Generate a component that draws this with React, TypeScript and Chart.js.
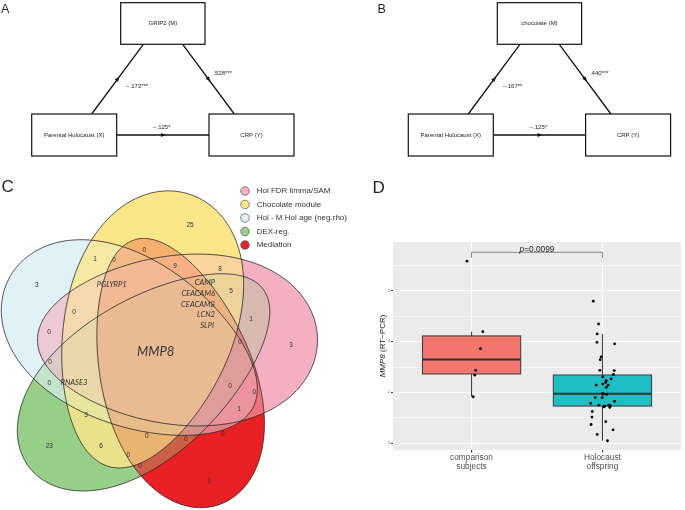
import React, { useEffect, useRef } from "react";
import { Chart, registerables } from "chart.js";

Chart.register(...registerables);
const SANS = "'Liberation Sans', Arial, Helvetica, sans-serif";
const GENE_FONT = "Lato, 'Liberation Sans', sans-serif";
Chart.defaults.font.family = SANS;

/* ---------------- DATA: panels A & B (mediation models) ---------------- */
const PANEL_LETTERS_AB = ["A", "B"];
const MEDIATORS = ["GRIP2 (M)", "chocolate (M)"];
const PREDICTOR = "Parental Holocaust (X)";
const OUTCOME = "CRP (Y)";
const COEF_X_TO_M = ["\u2212.173***", "\u2212.167**"];
const COEF_M_TO_Y = [".528***", ".440***"];
const COEF_X_TO_Y = ["\u2212.125*", "\u2212.125*"];

/* ---------------- DATA: panel C (Venn diagram) ---------------- */
const VENN_SETS = ["Hol FDR limma/SAM", "Chocolate module", "Hol - M Hol age (neg.rho)", "DEX-reg.", "Mediation"];
const VENN_COUNTS = [25, 3, 3, 23, 0, 0, 1, 0, 9, 8, 5, 1, 0, 0, 0, 0, 0, 0, 0, 1, 3, 0, 0, 0, 6, 0, 0];
const VENN_GENES = ["MMP8", "PGLYRP1", "CAMP", "CEACAM6", "CEACAM8", "LCN2", "SLPI", "RNASE3"];

/* ---------------- DATA: panel D (box plot) ---------------- */
const GROUP_LABELS = [["comparison", "subjects"], ["Holocaust", "offspring"]];
const COMPARISON_MMP8 = [7.16, 4.39, 3.72, 2.87, 2.68, 1.83];
const COMPARISON_JITTER = [-0.035, 0.086, 0.068, 0.031, 0.025, 0.013];
const OFFSPRING_MMP8 = [5.59, 4.69, 4.3, 3.97, 3.91, 3.4, 3.29, 2.87, 2.86, 2.71, 2.61, 2.53, 2.46, 2.39, 2.29, 2.29, 2.33, 2.2, 1.96, 1.92, 1.93, 1.8, 1.8, 1.57, 1.5, 1.65, 1.5, 1.48, 1.46, 1.41, 1.43, 1.25, 1.03, 0.74, 0.85, 0.53, 0.35, 0.1];
const OFFSPRING_JITTER = [-0.07, -0.03, -0.04, -0.042, 0.093, -0.01, -0.017, -0.02, 0.09, 0.083, 0.003, 0.066, 0.028, 0.025, 0.043, -0.047, 0.003, 0.03, 0.003, 0.033, 0.005, -0.055, -0.002, -0.09, -0.027, 0.093, 0.048, 0.06, 0.018, 0.056, 0.01, -0.078, -0.08, -0.087, 0.025, 0.081, -0.04, 0.038];
const Y_MAJOR_TICKS = [0, 2, 4, 6];
const Y_MINOR_TICKS = [1, 3, 5, 7];
const Y_LIMITS = [-0.263, 7.915];
const P_VALUE_LABEL = "0.0099";
const BRACKET_LEVELS = [7.51, 7.29];

/* ---------------- LAYOUT / STYLE (not data) ---------------- */
const AB_OFFSETS = [0, 36.6];
const AB_NODES = {
  M: [120.7, 2.7, 205, 44.3],
  X: [31.7, 114, 116.7, 156],
  Y: [209, 114, 294, 156],
};
const AB_EDGES = [
  [91.7, 114, 143.3, 44.3],
  [182.7, 44.3, 234.3, 114],
  [116.7, 135, 209, 135],
];
const AB_EDGE_LABEL_POS = [[126, 86], [213.3, 73.3], [153, 127.5]];

// egg-shaped set outlines: centre, half-length a, half-width b, lobe direction (deg), egg factor k
const VENN_SHAPES = [
  { cx: 177.5, cy: 170, a: 140, b: 85, rot: 0, k: 0.15 },
  { cx: 148, cy: 160, a: 142, b: 85, rot: -74, k: 0.15 },
  { cx: 131, cy: 173, a: 138, b: 83, rot: 208, k: 0.15 },
  { cx: 146, cy: 208, a: 147, b: 78, rot: 142.7, k: 0.15 },
  { cx: 176, cy: 202.5, a: 139, b: 76, rot: 72.6, k: 0.15 },
];
const VENN_FILLS = ["#F4B0C0", "#FBE68A", "#E1F1F8", "#98CF88", "#E92024"];
const VENN_BLEND = [0.8, 1.6, 0.5, 0.35, 0.6];
const VENN_COUNT_POS = [[190, 55], [36.7, 115], [291, 175], [49.3, 276.7], [209.3, 311], [144.3, 80], [95, 89.3], [114, 90], [175, 96.7], [220, 99.3], [231, 121.7], [251, 149], [240, 172.7], [74, 142.3], [49, 162.7], [50, 192.7], [49.3, 213.3], [230, 216], [254.3, 222.7], [239, 239], [86, 245], [146.7, 266.7], [185.7, 269.3], [222.7, 264.3], [101, 276.7], [128.3, 285.7], [140, 296]];
const VENN_GENE_POS = [[155.7, 181.7, "center", 13], [111.7, 115, "center", 7.6], [215, 112.7, "right", 7.6], [215, 123.5, "right", 7.6], [215, 134.3, "right", 7.6], [215, 145, "right", 7.6], [214, 155.7, "right", 7.6], [74, 212.7, "center", 7.6]];
const VENN_LEGEND_POS = { x: 245, y0: 21, dy: 13.5, r: 4.3, tx: 256.7 };
const BOX_FILLS = ["#F2766E", "#1FBEC4"];

function hexToRgb(h: string) {
  const n = parseInt(h.slice(1), 16);
  return [(n >> 16) & 255, (n >> 8) & 255, n & 255];
}

function quantile(s: number[], p: number) {
  const h = (s.length - 1) * p;
  const lo = Math.floor(h);
  const hi = Math.min(lo + 1, s.length - 1);
  return s[lo] + (h - lo) * (s[hi] - s[lo]);
}

function boxStats(vals: number[]) {
  const s = [...vals].sort((a, b) => a - b);
  const q1 = quantile(s, 0.25), med = quantile(s, 0.5), q3 = quantile(s, 0.75);
  const iqr = q3 - q1;
  const lo = s.find((v) => v >= q1 - 1.5 * iqr) as number;
  const hi = [...s].reverse().find((v) => v <= q3 + 1.5 * iqr) as number;
  return { q1, med, q3, lo, hi };
}

/* ---------------- Panel A / B config ---------------- */
function pathConfig(i: number, W: number) {
  const dx = AB_OFFSETS[i];
  const nodeLabels = { M: MEDIATORS[i], X: PREDICTOR, Y: OUTCOME };
  const edgeLabels = [COEF_X_TO_M[i], COEF_M_TO_Y[i], COEF_X_TO_Y[i]];
  const plugin = {
    id: "pathDiagram" + i,
    afterDatasetsDraw(chart: any) {
      const { ctx } = chart;
      const xs = chart.scales.x, ys = chart.scales.y;
      const X = (v: number) => xs.getPixelForValue(v);
      const Y = (v: number) => ys.getPixelForValue(v);
      ctx.save();
      chart.data.datasets.forEach((_: any, k: number) => {
        const pts = chart.getDatasetMeta(k).data;
        const x0 = pts[0].x, y0 = pts[0].y, x1 = pts[1].x, y1 = pts[1].y;
        const L = Math.hypot(x1 - x0, y1 - y0);
        const ux = (x1 - x0) / L, uy = (y1 - y0) / L;
        const mx = (x0 + x1) / 2, my = (y0 + y1) / 2;
        ctx.beginPath();
        ctx.moveTo(mx + ux * 3, my + uy * 3);
        ctx.lineTo(mx - ux * 2 - uy * 2, my - uy * 2 + ux * 2);
        ctx.lineTo(mx - ux * 2 + uy * 2, my - uy * 2 - ux * 2);
        ctx.closePath();
        ctx.fillStyle = "#111";
        ctx.fill();
      });
      (Object.keys(AB_NODES) as ("M" | "X" | "Y")[]).forEach((key) => {
        const [a, b, c, d] = AB_NODES[key];
        const x0 = X(a + dx), y0 = Y(b), x1 = X(c + dx), y1 = Y(d);
        ctx.fillStyle = "#fff";
        ctx.fillRect(x0, y0, x1 - x0, y1 - y0);
        ctx.strokeStyle = "#111";
        ctx.lineWidth = 1.2;
        ctx.strokeRect(x0, y0, x1 - x0, y1 - y0);
        ctx.fillStyle = "#222";
        ctx.font = `6px ${SANS}`;
        ctx.textAlign = "center";
        ctx.textBaseline = "middle";
        ctx.fillText(nodeLabels[key], (x0 + x1) / 2, (y0 + y1) / 2);
      });
      ctx.font = `6px ${SANS}`;
      ctx.textAlign = "left";
      ctx.textBaseline = "middle";
      ctx.fillStyle = "#222";
      edgeLabels.forEach((t, k) => {
        const [lx, ly] = AB_EDGE_LABEL_POS[k];
        ctx.fillText(t, X(lx + dx), Y(ly));
      });
      ctx.font = `12.5px ${SANS}`;
      ctx.fillStyle = "#222";
      ctx.textBaseline = "alphabetic";
      ctx.fillText(PANEL_LETTERS_AB[i], X(1 + dx), Y(13.3));
      ctx.restore();
    },
  };
  return {
    type: "scatter",
    data: {
      datasets: AB_EDGES.map((e) => ({
        data: [{ x: e[0] + dx, y: e[1] }, { x: e[2] + dx, y: e[3] }],
        showLine: true,
        borderColor: "#111",
        borderWidth: 1.3,
        pointRadius: 0,
      })),
    },
    options: {
      responsive: false,
      animation: false,
      events: [],
      layout: { padding: 0 },
      plugins: { legend: { display: false }, tooltip: { enabled: false } },
      scales: {
        x: { type: "linear", display: false, min: 0, max: W },
        y: { type: "linear", display: false, min: 0, max: 170, reverse: true },
      },
    },
    plugins: [plugin],
  };
}

/* ---------------- Panel C config ---------------- */
function vennConfig() {
  const plugin = {
    id: "vennPanel",
    beforeDatasetsDraw(chart: any) {
      const { ctx } = chart;
      const xs = chart.scales.x, ys = chart.scales.y;
      const kx = xs.getPixelForValue(1) - xs.getPixelForValue(0);
      const ky = ys.getPixelForValue(1) - ys.getPixelForValue(0);
      const shapes = VENN_SHAPES.map((e) => {
        const r = (e.rot * Math.PI) / 180;
        return { cx: xs.getPixelForValue(e.cx), cy: ys.getPixelForValue(e.cy), a: e.a * kx, b: e.b * ky, c: Math.cos(r), s: Math.sin(r), k: e.k };
      });
      const rgb = VENN_FILLS.map(hexToRgb);
      const W = Math.round(chart.width), H = Math.round(chart.height);
      const off = document.createElement("canvas");
      off.width = W;
      off.height = H;
      const octx = off.getContext("2d") as CanvasRenderingContext2D;
      const img = octx.createImageData(W, H);
      const S = 3;
      const inside = (e: any, x: number, y: number) => {
        const dx = x - e.cx, dy = y - e.cy;
        const u = (dx * e.c + dy * e.s) / e.a;
        if (u <= -1 || u >= 1) return false;
        const v = (-dx * e.s + dy * e.c) / e.b;
        const hw = Math.sqrt(1 - u * u) * (1 + e.k * u);
        return Math.abs(v) <= hw;
      };
      for (let py = 0; py < H; py++) {
        for (let px = 0; px < W; px++) {
          let R = 0, G = 0, B = 0, A = 0;
          for (let sy = 0; sy < S; sy++) {
            for (let sx = 0; sx < S; sx++) {
              const x = px + (sx + 0.5) / S, y = py + (sy + 0.5) / S;
              let wr = 0, wg = 0, wb = 0, ws = 0;
              for (let k = 0; k < shapes.length; k++) {
                if (inside(shapes[k], x, y)) {
                  const w = VENN_BLEND[k];
                  wr += w * rgb[k][0];
                  wg += w * rgb[k][1];
                  wb += w * rgb[k][2];
                  ws += w;
                }
              }
              if (ws > 0) {
                R += wr / ws;
                G += wg / ws;
                B += wb / ws;
                A += 1;
              }
            }
          }
          if (A > 0) {
            const idx = (py * W + px) * 4;
            img.data[idx] = R / A;
            img.data[idx + 1] = G / A;
            img.data[idx + 2] = B / A;
            img.data[idx + 3] = (255 * A) / (S * S);
          }
        }
      }
      octx.putImageData(img, 0, 0);
      ctx.drawImage(off, 0, 0, W, H);
      ctx.save();
      ctx.strokeStyle = "#262626";
      ctx.lineWidth = 0.8;
      shapes.forEach((e) => {
        ctx.beginPath();
        for (let j = 0; j <= 360; j++) {
          const t = (j * Math.PI) / 180;
          const u = e.a * Math.cos(t);
          const v = e.b * Math.sin(t) * (1 + e.k * Math.cos(t));
          const x = e.cx + u * e.c - v * e.s;
          const y = e.cy + u * e.s + v * e.c;
          if (j === 0) ctx.moveTo(x, y);
          else ctx.lineTo(x, y);
        }
        ctx.closePath();
        ctx.stroke();
      });
      ctx.restore();
    },
    afterDatasetsDraw(chart: any) {
      const { ctx } = chart;
      const xs = chart.scales.x, ys = chart.scales.y;
      ctx.save();
      const counts = chart.getDatasetMeta(0).data;
      ctx.font = `6.5px ${SANS}`;
      ctx.fillStyle = "#333";
      ctx.textAlign = "center";
      ctx.textBaseline = "middle";
      counts.forEach((p: any, k: number) => ctx.fillText(String(VENN_COUNTS[k]), p.x, p.y));
      const genes = chart.getDatasetMeta(1).data;
      genes.forEach((p: any, k: number) => {
        const [, , align, size] = VENN_GENE_POS[k] as any;
        ctx.font = `italic ${size}px ${GENE_FONT}`;
        ctx.textAlign = align;
        ctx.fillStyle = "#333";
        ctx.fillText(VENN_GENES[k], p.x, p.y);
      });
      VENN_SETS.forEach((name, k) => {
        const cy = ys.getPixelForValue(VENN_LEGEND_POS.y0 + k * VENN_LEGEND_POS.dy);
        ctx.beginPath();
        ctx.arc(xs.getPixelForValue(VENN_LEGEND_POS.x), cy, VENN_LEGEND_POS.r, 0, Math.PI * 2);
        ctx.fillStyle = VENN_FILLS[k];
        ctx.fill();
        ctx.strokeStyle = "#555";
        ctx.lineWidth = 0.7;
        ctx.stroke();
        ctx.font = `8px ${SANS}`;
        ctx.fillStyle = "#333";
        ctx.textAlign = "left";
        ctx.textBaseline = "middle";
        ctx.fillText(name, xs.getPixelForValue(VENN_LEGEND_POS.tx), cy);
      });
      ctx.font = `17px ${SANS}`;
      ctx.fillStyle = "#222";
      ctx.textAlign = "left";
      ctx.textBaseline = "alphabetic";
      ctx.fillText("C", xs.getPixelForValue(1.5), ys.getPixelForValue(22));
      ctx.restore();
    },
  };
  return {
    type: "scatter",
    data: {
      datasets: [
        { data: VENN_COUNT_POS.map(([x, y]) => ({ x, y })), pointRadius: 0 },
        { data: VENN_GENE_POS.map(([x, y]) => ({ x: x as number, y: y as number })), pointRadius: 0 },
      ],
    },
    options: {
      responsive: false,
      animation: false,
      events: [],
      layout: { padding: 0 },
      plugins: { legend: { display: false }, tooltip: { enabled: false } },
      scales: {
        x: { type: "linear", display: false, min: 0, max: 400 },
        y: { type: "linear", display: false, min: 0, max: 340, reverse: true },
      },
    },
    plugins: [plugin],
  };
}

/* ---------------- Panel D config ---------------- */
function boxConfig() {
  const groups = [COMPARISON_MMP8, OFFSPRING_MMP8];
  const stats = groups.map(boxStats);
  const plugin = {
    id: "boxPanel",
    beforeDraw(chart: any) {
      const { ctx, chartArea: a } = chart;
      ctx.save();
      ctx.fillStyle = "#EBEBEB";
      ctx.fillRect(a.left, a.top, a.right - a.left, a.bottom - a.top);
      ctx.restore();
    },
    beforeDatasetsDraw(chart: any) {
      const { ctx } = chart;
      const xs = chart.scales.x, ys = chart.scales.y;
      ctx.save();
      stats.forEach((s, g) => {
        const c = g + 1;
        const xc = xs.getPixelForValue(c);
        const x0 = xs.getPixelForValue(c - 0.375), x1 = xs.getPixelForValue(c + 0.375);
        ctx.strokeStyle = "#444";
        ctx.lineWidth = 1.1;
        ctx.beginPath();
        ctx.moveTo(xc, ys.getPixelForValue(s.hi));
        ctx.lineTo(xc, ys.getPixelForValue(s.lo));
        ctx.stroke();
        const yq3 = ys.getPixelForValue(s.q3), yq1 = ys.getPixelForValue(s.q1);
        ctx.fillStyle = BOX_FILLS[g];
        ctx.fillRect(x0, yq3, x1 - x0, yq1 - yq3);
        ctx.strokeRect(x0, yq3, x1 - x0, yq1 - yq3);
        ctx.lineWidth = 2;
        ctx.strokeStyle = "#333";
        const ym = ys.getPixelForValue(s.med);
        ctx.beginPath();
        ctx.moveTo(x0, ym);
        ctx.lineTo(x1, ym);
        ctx.stroke();
      });
      ctx.restore();
    },
    afterDraw(chart: any) {
      const { ctx, chartArea: a } = chart;
      const xs = chart.scales.x, ys = chart.scales.y;
      ctx.save();
      const yTop = ys.getPixelForValue(BRACKET_LEVELS[0]), yEnd = ys.getPixelForValue(BRACKET_LEVELS[1]);
      const xA = xs.getPixelForValue(1), xB = xs.getPixelForValue(2);
      ctx.strokeStyle = "#8a8a8a";
      ctx.lineWidth = 1;
      ctx.beginPath();
      ctx.moveTo(xA, yEnd);
      ctx.lineTo(xA, yTop);
      ctx.lineTo(xB, yTop);
      ctx.lineTo(xB, yEnd);
      ctx.stroke();
      ctx.fillStyle = "#222";
      ctx.textBaseline = "alphabetic";
      const fi = `italic 8.3px ${SANS}`, fn = `8.3px ${SANS}`;
      ctx.font = fi;
      const wP = ctx.measureText("p").width;
      ctx.font = fn;
      const rest = "=" + P_VALUE_LABEL;
      const wR = ctx.measureText(rest).width;
      const xm = xs.getPixelForValue(1.5) - (wP + wR) / 2;
      ctx.textAlign = "left";
      ctx.font = fi;
      ctx.fillText("p", xm, yTop - 0.5);
      ctx.font = fn;
      ctx.fillText(rest, xm + wP, yTop - 0.5);
      const cy = (a.top + a.bottom) / 2;
      ctx.translate(43, cy);
      ctx.rotate(-Math.PI / 2);
      const t1 = "MMP8", t2 = " (RT\u2212PCR)";
      ctx.font = `italic 8px ${SANS}`;
      const w1 = ctx.measureText(t1).width;
      ctx.font = `8px ${SANS}`;
      const w2 = ctx.measureText(t2).width;
      ctx.textBaseline = "middle";
      ctx.font = `italic 8px ${SANS}`;
      ctx.fillText(t1, -(w1 + w2) / 2, 0);
      ctx.font = `8px ${SANS}`;
      ctx.fillText(t2, -(w1 + w2) / 2 + w1, 0);
      ctx.restore();
      ctx.save();
      ctx.font = `17px ${SANS}`;
      ctx.fillStyle = "#222";
      ctx.textBaseline = "alphabetic";
      ctx.fillText("D", 32.5, 23);
      ctx.restore();
    },
  };
  const isMajor = (v: number) => Y_MAJOR_TICKS.includes(v);
  return {
    type: "scatter",
    data: {
      datasets: [
        { data: COMPARISON_MMP8.map((y, k) => ({ x: 1 + COMPARISON_JITTER[k], y })), pointRadius: 1.4, pointBackgroundColor: "#000", pointBorderWidth: 0 },
        { data: OFFSPRING_MMP8.map((y, k) => ({ x: 2 + OFFSPRING_JITTER[k], y })), pointRadius: 1.4, pointBackgroundColor: "#000", pointBorderWidth: 0 },
      ],
    },
    options: {
      responsive: false,
      animation: false,
      events: [],
      layout: { padding: { top: 72, left: 0, right: 0, bottom: 0 } },
      plugins: { legend: { display: false }, tooltip: { enabled: false } },
      scales: {
        x: {
          type: "linear",
          min: 0.4,
          max: 2.6,
          afterBuildTicks: (s: any) => {
            s.ticks = GROUP_LABELS.map((_, k) => ({ value: k + 1 }));
          },
          afterFit: (s: any) => {
            s.height = 60;
          },
          border: { display: false },
          grid: { color: "#FFFFFF", lineWidth: 1.1, tickColor: "#333", tickLength: 2.5 },
          ticks: {
            autoSkip: false,
            maxRotation: 0,
            padding: 0,
            color: "#4D4D4D",
            font: { size: 8.3, lineHeight: 1.15 },
            callback: (v: number) => GROUP_LABELS[Math.round(v) - 1],
          },
        },
        y: {
          type: "linear",
          min: Y_LIMITS[0],
          max: Y_LIMITS[1],
          afterBuildTicks: (s: any) => {
            s.ticks = [...Y_MAJOR_TICKS, ...Y_MINOR_TICKS].sort((p, q) => p - q).map((value) => ({ value }));
          },
          afterFit: (s: any) => {
            s.width = 53;
          },
          border: { display: false },
          grid: {
            color: "#FFFFFF",
            lineWidth: (c: any) => (c.tick && isMajor(c.tick.value) ? 1.1 : 0.55),
            tickColor: (c: any) => (c.tick && isMajor(c.tick.value) ? "#333" : "rgba(0,0,0,0)"),
            tickLength: 2,
          },
          ticks: {
            autoSkip: false,
            padding: 1,
            color: "#4D4D4D",
            font: { size: 3 },
            callback: (v: number) => (isMajor(v) ? String(v) : ""),
          },
        },
      },
    },
    plugins: [plugin],
  };
}

function ChartCanvas({ left, top, width, height, config }: { left: number; top: number; width: number; height: number; config: () => any }) {
  const ref = useRef<HTMLCanvasElement>(null);
  useEffect(() => {
    const chart = new Chart(ref.current as HTMLCanvasElement, config());
    return () => chart.destroy();
  }, []);
  return (
    <canvas
      ref={ref}
      width={width}
      height={height}
      style={{ position: "absolute", left, top, width, height, display: "block" }}
    />
  );
}

export default function App() {
  return (
    <div style={{ position: "fixed", left: 0, top: 0, width: 685, height: 510, background: "#fff", overflow: "hidden" }}>
      <ChartCanvas left={0} top={0} width={340} height={170} config={() => pathConfig(0, 340)} />
      <ChartCanvas left={340} top={0} width={345} height={170} config={() => pathConfig(1, 345)} />
      <ChartCanvas left={0} top={170} width={400} height={340} config={vennConfig} />
      <ChartCanvas left={340} top={170} width={345} height={340} config={boxConfig} />
    </div>
  );
}
